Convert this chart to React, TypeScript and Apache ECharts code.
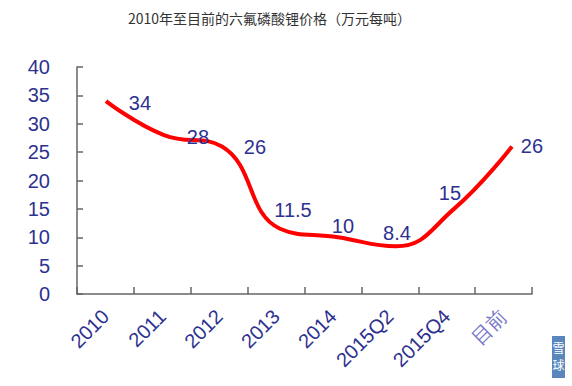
import React, { useEffect, useRef } from "react";
import * as echarts from "echarts";

const categories = ["2010", "2011", "2012", "2013", "2014", "2015Q2", "2015Q4", "目前"];
const prices = [34, 28, 26, 11.5, 10, 8.4, 15, 26];
const yTicks = [0, 5, 10, 15, 20, 25, 30, 35, 40];
const titleText = "2010年至目前的六氟磷酸锂价格（万元每吨）";

// label offsets (style only) relative to each point
const labelOffsets: [number, number][] = [
  [34, 2], [34, 2], [33, 1], [13, -19], [5, -11], [1, -13], [-4, -16], [20, 0],
];

const BLUE = "#2d3190";
const LIGHT = "#7a78c8";
const AXIS = "#666666";

export default function App() {
  const ref = useRef<HTMLDivElement>(null);
  useEffect(() => {
    if (!ref.current) return;
    const chart = echarts.init(ref.current, null, { renderer: "svg" });
    const font = "Liberation Sans, Arial, sans-serif";
    chart.setOption({
      animation: false,
      backgroundColor: "#ffffff",
      title: {
        text: titleText,
        left: 123,
        top: 6,
        textStyle: { fontFamily: "Noto Sans CJK SC", fontSize: 14, fontWeight: "normal", color: "#333333" },
      },
      grid: { left: 77, right: 40, top: 67, bottom: 92, containLabel: false },
      xAxis: [
        {
          type: "category",
          data: categories.map((c, i) =>
            i === categories.length - 1 ? { value: c, textStyle: { color: LIGHT } } : c
          ),
          boundaryGap: true,
          axisLine: { show: true, onZero: false, lineStyle: { color: AXIS, width: 1.5 } },
          axisTick: { show: true, inside: true, length: 7, lineStyle: { color: AXIS, width: 1.5 } },
          axisLabel: { rotate: 45, margin: 19, fontSize: 20, color: BLUE, fontFamily: font, interval: 0 },
          splitLine: { show: false },
        },
        {
          type: "value",
          show: false,
          min: -0.5,
          max: 7.345,
          position: "bottom",
          axisLine: { onZero: false },
        },
      ],
      yAxis: {
        type: "value",
        min: yTicks[0],
        max: yTicks[yTicks.length - 1],
        interval: 5,
        axisLine: { show: true, onZero: false, lineStyle: { color: AXIS, width: 1.5 } },
        axisTick: { show: true, inside: true, length: 6, lineStyle: { color: AXIS, width: 1.5 } },
        axisLabel: { margin: 27, fontSize: 20, color: BLUE, fontFamily: font },
        splitLine: { show: false },
      },
      series: [
        {
          type: "line",
          xAxisIndex: 1,
          smooth: 0.45,
          symbol: "circle",
          symbolSize: 0,
          showSymbol: true,
          lineStyle: { color: "#ff0000", width: 4 },
          itemStyle: { color: "#ff0000" },
          data: prices.map((v, i) => ({
            value: [i, v],
            label: {
              show: true,
              position: "inside",
              offset: labelOffsets[i],
              formatter: String(v),
              fontSize: 20,
              color: BLUE,
              fontFamily: font,
            },
          })),
        },
      ],
      graphic: [
        {
          type: "group",
          left: 552,
          top: 336,
          children: [
            { type: "rect", shape: { x: 0, y: 0, width: 13, height: 42 }, style: { fill: "#5a87bb" } },
            { type: "text", x: 0.5, y: 5, style: { text: "雪", fill: "#ffffff", fontSize: 12, fontFamily: "Noto Sans CJK SC" } },
            { type: "text", x: 0.5, y: 22, style: { text: "球", fill: "#ffffff", fontSize: 12, fontFamily: "Noto Sans CJK SC" } },
          ],
        },
      ],
    });
    return () => chart.dispose();
  }, []);
  return (
    <div
      ref={ref}
      style={{ position: "fixed", left: 0, top: 0, width: 572, height: 386, background: "#fff" }}
    />
  );
}
